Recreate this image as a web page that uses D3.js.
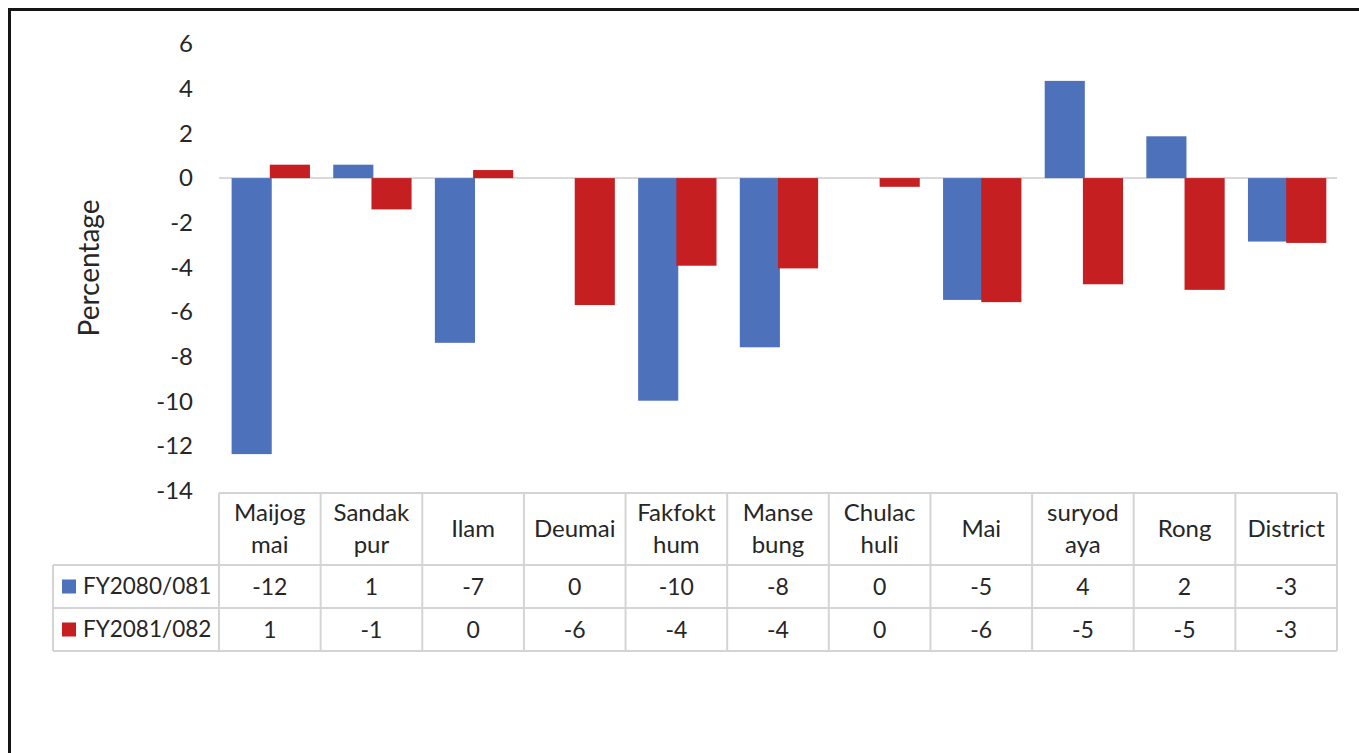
<!DOCTYPE html>
<html>
<head>
<meta charset="utf-8">
<script src="https://cdn.jsdelivr.net/npm/d3@7"></script>
<style>
  body { margin: 0; background: #fff; }
  text { font-family: Lato, "Open Sans", sans-serif; fill: #262626; }
</style>
</head>
<body>
<div class="container"></div>
<script>
// data
const categories = ['Maijogmai', 'Sandakpur', 'Ilam', 'Deumai', 'Fakfokthum', 'Mansebung', 'Chulachuli', 'Mai', 'suryodaya', 'Rong', 'District'];
const headerLines = [['Maijog', 'mai'], ['Sandak', 'pur'], ['Ilam'], ['Deumai'], ['Fakfokt', 'hum'], ['Manse', 'bung'], ['Chulac', 'huli'], ['Mai'], ['suryod', 'aya'], ['Rong'], ['District']];
const seriesNames = ['FY2080/081', 'FY2081/082'];
const fy2080 = [-12.35, 0.6, -7.37, 0, -9.96, -7.57, 0, -5.45, 4.35, 1.87, -2.84];
const fy2081 = [0.6, -1.4, 0.36, -5.68, -3.92, -4.04, -0.39, -5.55, -4.75, -5.0, -2.9];
const yTicks = [6, 4, 2, 0, -2, -4, -6, -8, -10, -12, -14];
const colors = ['#4e71bb', '#c51f21'];

const W = 1359, H = 753;
const svg = d3.select('.container')
	.append('svg')
	.attr('width', W)
	.attr('height', H);

// frame (cropped at right and bottom)
svg.append('path')
	.attr('d', `M9.5,${H} L9.5,9.5 L${W},9.5`)
	.attr('fill', 'none')
	.attr('stroke', '#151515')
	.attr('stroke-width', 3);

// scales
const y = d3.scaleLinear().domain([-14, 6]).range([491, 44]);
const x0 = d3.scaleBand().domain(categories).range([219, 1337]);
const bw = x0.bandwidth();
const x1 = d3.scaleBand().domain(seriesNames).range([bw * 0.124, bw * 0.876]);
const barW = x1.bandwidth() * 1.05;

// y axis
const yAxis = svg.append('g')
	.attr('transform', 'translate(193,0)')
	.call(d3.axisLeft(y).tickValues(yTicks).tickSize(0).tickPadding(0).tickFormat(d => String(d)));
yAxis.select('.domain').remove();
yAxis.selectAll('text')
	.style('font-size', '24px')
	.style('font-family', 'Lato, sans-serif')
	.attr('fill', '#262626');

svg.append('text')
	.attr('transform', 'translate(89,268) rotate(-90)')
	.attr('text-anchor', 'middle')
	.attr('dy', '0.35em')
	.style('font-size', '28px')
	.text('Percentage');

// zero line
svg.append('line')
	.attr('x1', 219).attr('x2', 1337)
	.attr('y1', y(0)).attr('y2', y(0))
	.attr('stroke', '#d9d9d9')
	.attr('stroke-width', 2);

// bars
const series = [fy2080, fy2081];
series.forEach(function(vals, s){
	svg.append('g')
		.selectAll('rect')
		.data(vals)
		.join('rect')
		.attr('x', (d, i) => x0(categories[i]) + x1(seriesNames[s]))
		.attr('width', barW)
		.attr('y', d => y(Math.max(0, d)))
		.attr('height', d => Math.abs(y(d) - y(0)))
		.attr('fill', colors[s]);
});

// data table
const tTop = 493, tHead = 565, tRow = 43, legendLeft = 53;
const tBottom = tHead + tRow * 2;
const grid = svg.append('g')
	.attr('stroke', '#d4d4d4')
	.attr('stroke-width', 2)
	.attr('fill', 'none');

grid.append('line').attr('x1', 219).attr('x2', 1337).attr('y1', tTop).attr('y2', tTop);
[tHead, tHead + tRow, tBottom].forEach(function(yy){
	grid.append('line').attr('x1', legendLeft).attr('x2', 1337).attr('y1', yy).attr('y2', yy);
});
grid.append('line').attr('x1', legendLeft).attr('x2', legendLeft).attr('y1', tHead).attr('y2', tBottom);
categories.forEach(function(c){
	grid.append('line').attr('x1', x0(c)).attr('x2', x0(c)).attr('y1', tTop).attr('y2', tBottom);
});
grid.append('line').attr('x1', 1337).attr('x2', 1337).attr('y1', tTop).attr('y2', tBottom);

// header labels
categories.forEach(function(c, i){
	const lines = headerLines[i];
	const cx = x0(c) + bw / 2;
	const cy = (tTop + tHead) / 2;
	const lh = 32;
	lines.forEach(function(t, k){
		svg.append('text')
			.attr('x', cx)
			.attr('y', cy + (k - (lines.length - 1) / 2) * lh)
			.attr('dy', '0.35em')
			.attr('text-anchor', 'middle')
			.style('font-size', '24px')
			.text(t);
	});
});

// rows
series.forEach(function(vals, s){
	const cy = tHead + tRow * s + tRow / 2;
	svg.append('rect')
		.attr('x', 62).attr('y', cy - 7)
		.attr('width', 14).attr('height', 14)
		.attr('fill', colors[s]);
	svg.append('text')
		.attr('x', 83).attr('y', cy)
		.attr('dy', '0.35em')
		.style('font-size', '22.5px')
		.text(seriesNames[s]);
	svg.append('g')
		.selectAll('text')
		.data(vals)
		.join('text')
		.attr('x', (d, i) => x0(categories[i]) + bw / 2)
		.attr('y', cy)
		.attr('dy', '0.35em')
		.attr('text-anchor', 'middle')
		.style('font-size', '23px')
		.text(d => String(Math.round(d)));
});
</script>
</body>
</html>
